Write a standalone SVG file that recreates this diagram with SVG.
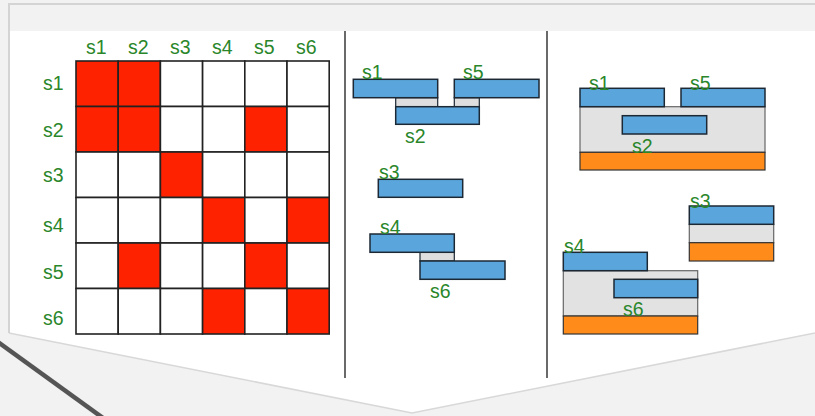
<svg xmlns="http://www.w3.org/2000/svg" width="815" height="416" viewBox="0 0 815 416">
<style>
.lbl{font-family:"Liberation Sans Narrow","Liberation Sans",Arial,sans-serif;font-size:19.5px;fill:#2a862a;}
.cell{fill:#ffffff;stroke:#222;stroke-width:1.6;}
.red{fill:#ff2200;stroke:#222;stroke-width:1.6;}
.bar{fill:#5aa5dc;stroke:#1c2833;stroke-width:1.5;}
.gap{fill:#dedede;stroke:#1c2833;stroke-width:1.2;}
.box{fill:#e2e2e2;stroke:#666;stroke-width:1.2;}
.org{fill:#ff8c1a;stroke:#333;stroke-width:1.2;}
.div{stroke:#444;stroke-width:1.6;}
</style>
<rect width="815" height="416" fill="#f2f2f2"/>
<g id="panel">
<path d="M9,31 L815,31 L815,333 L412,413 L9,333 Z" fill="#ffffff"/>
<path d="M9,333 L412,413 L815,333" fill="none" stroke="#d8d8d8" stroke-width="1.5"/>
<path d="M9,333 L9,4 L815,4" fill="none" stroke="#d4d4d4" stroke-width="2"/>
</g>
<line x1="-2" y1="342" x2="103" y2="418" stroke="#555" stroke-width="4.5"/>
<g id="dividers">
<line class="div" x1="345" y1="31" x2="345" y2="378"/>
<line class="div" x1="547" y1="31" x2="547" y2="378"/>
</g>
<g id="matrix">
<g id="matrix-cells">
<rect class="red" x="76" y="61" width="42.2" height="45.5"/>
<rect class="red" x="118.2" y="61" width="42.2" height="45.5"/>
<rect class="cell" x="160.4" y="61" width="42.2" height="45.5"/>
<rect class="cell" x="202.6" y="61" width="42.2" height="45.5"/>
<rect class="cell" x="244.8" y="61" width="42.2" height="45.5"/>
<rect class="cell" x="287" y="61" width="42.2" height="45.5"/>
<rect class="red" x="76" y="106.5" width="42.2" height="45.5"/>
<rect class="red" x="118.2" y="106.5" width="42.2" height="45.5"/>
<rect class="cell" x="160.4" y="106.5" width="42.2" height="45.5"/>
<rect class="cell" x="202.6" y="106.5" width="42.2" height="45.5"/>
<rect class="red" x="244.8" y="106.5" width="42.2" height="45.5"/>
<rect class="cell" x="287" y="106.5" width="42.2" height="45.5"/>
<rect class="cell" x="76" y="152" width="42.2" height="45.5"/>
<rect class="cell" x="118.2" y="152" width="42.2" height="45.5"/>
<rect class="red" x="160.4" y="152" width="42.2" height="45.5"/>
<rect class="cell" x="202.6" y="152" width="42.2" height="45.5"/>
<rect class="cell" x="244.8" y="152" width="42.2" height="45.5"/>
<rect class="cell" x="287" y="152" width="42.2" height="45.5"/>
<rect class="cell" x="76" y="197.5" width="42.2" height="45.5"/>
<rect class="cell" x="118.2" y="197.5" width="42.2" height="45.5"/>
<rect class="cell" x="160.4" y="197.5" width="42.2" height="45.5"/>
<rect class="red" x="202.6" y="197.5" width="42.2" height="45.5"/>
<rect class="cell" x="244.8" y="197.5" width="42.2" height="45.5"/>
<rect class="red" x="287" y="197.5" width="42.2" height="45.5"/>
<rect class="cell" x="76" y="243" width="42.2" height="45.5"/>
<rect class="red" x="118.2" y="243" width="42.2" height="45.5"/>
<rect class="cell" x="160.4" y="243" width="42.2" height="45.5"/>
<rect class="cell" x="202.6" y="243" width="42.2" height="45.5"/>
<rect class="red" x="244.8" y="243" width="42.2" height="45.5"/>
<rect class="cell" x="287" y="243" width="42.2" height="45.5"/>
<rect class="cell" x="76" y="288.5" width="42.2" height="45.5"/>
<rect class="cell" x="118.2" y="288.5" width="42.2" height="45.5"/>
<rect class="cell" x="160.4" y="288.5" width="42.2" height="45.5"/>
<rect class="red" x="202.6" y="288.5" width="42.2" height="45.5"/>
<rect class="cell" x="244.8" y="288.5" width="42.2" height="45.5"/>
<rect class="red" x="287" y="288.5" width="42.2" height="45.5"/>
</g>
<g id="matrix-labels">
<text class="lbl" x="86" y="54">s1</text>
<text class="lbl" x="128" y="54">s2</text>
<text class="lbl" x="170" y="54">s3</text>
<text class="lbl" x="212" y="54">s4</text>
<text class="lbl" x="254" y="54">s5</text>
<text class="lbl" x="296" y="54">s6</text>
<text class="lbl" x="43" y="90">s1</text>
<text class="lbl" x="43" y="137">s2</text>
<text class="lbl" x="43" y="182">s3</text>
<text class="lbl" x="43" y="232">s4</text>
<text class="lbl" x="43" y="279">s5</text>
<text class="lbl" x="43" y="325">s6</text>
</g>
</g>
<g id="middle">
<g id="m-gaps">
<rect class="gap" x="395.7" y="97.7" width="42" height="9"/>
<rect class="gap" x="454.3" y="97.7" width="25" height="9"/>
<rect class="gap" x="420" y="252.3" width="34.3" height="8.7"/>
</g>
<g id="m-s1"><rect class="bar" x="353.3" y="79.3" width="84.4" height="18.4"/><text class="lbl" x="362" y="79">s1</text></g>
<g id="m-s5"><rect class="bar" x="454.3" y="79.3" width="84.7" height="18.4"/><text class="lbl" x="463" y="79">s5</text></g>
<g id="m-s2"><rect class="bar" x="395.7" y="106.7" width="83.6" height="17.6"/><text class="lbl" x="405" y="143">s2</text></g>
<g id="m-s3"><rect class="bar" x="378.3" y="179.3" width="84.4" height="18"/><text class="lbl" x="379" y="179">s3</text></g>
<g id="m-s4"><rect class="bar" x="370" y="234" width="84.3" height="18.3"/><text class="lbl" x="380" y="234">s4</text></g>
<g id="m-s6"><rect class="bar" x="420" y="261" width="85" height="18.3"/><text class="lbl" x="430" y="298">s6</text></g>
</g>
<g id="right">
<g id="r-group1">
<rect class="box" x="580" y="106.7" width="185" height="45.6"/>
<rect class="org" x="580" y="152.3" width="185" height="17.7"/>
<rect class="bar" x="580" y="88.3" width="84.3" height="18.4"/>
<rect class="bar" x="681" y="88.3" width="84" height="18.4"/>
<rect class="bar" x="622.3" y="115.7" width="84.4" height="18.3"/>
<text class="lbl" x="589" y="90">s1</text>
<text class="lbl" x="690" y="90">s5</text>
<text class="lbl" x="632" y="153">s2</text>
</g>
<g id="r-group2">
<rect class="box" x="689.3" y="224.3" width="84.4" height="18.4"/>
<rect class="org" x="689.3" y="242.7" width="84.4" height="18.3"/>
<rect class="bar" x="689.3" y="206" width="84.4" height="18.3"/>
<text class="lbl" x="690" y="208">s3</text>
</g>
<g id="r-group3">
<rect class="box" x="563.3" y="270.7" width="134.4" height="45.3"/>
<rect class="org" x="563.3" y="316" width="134.4" height="18"/>
<rect class="bar" x="563.3" y="252.3" width="84" height="18.4"/>
<rect class="bar" x="614" y="279.3" width="83.7" height="18.4"/>
<text class="lbl" x="564" y="253">s4</text>
<text class="lbl" x="623" y="316">s6</text>
</g>
</g>
</svg>
